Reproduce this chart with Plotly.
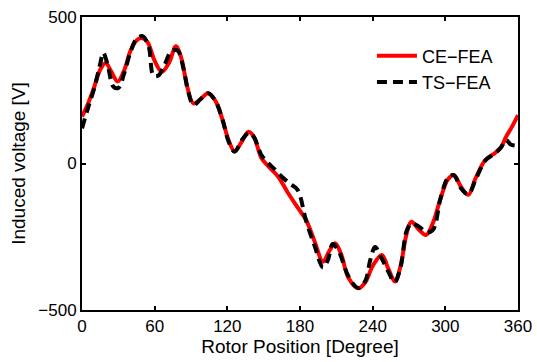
import plotly.graph_objects as go

# CE-FEA (red solid)
ce_deg = [0, 5, 10, 15, 19.5, 24, 29.5, 35, 40, 45, 49, 54, 60, 66, 72, 77.5, 82, 87, 92, 98,
          104, 110, 116, 121, 126, 132, 137.5, 142, 148, 154, 162, 170, 178, 185, 192, 199,
          204, 209, 214, 220, 228, 234, 240, 247.5, 253, 258.5, 263, 268, 272, 278, 284, 290,
          296, 302, 307, 313, 319, 325, 333, 341, 346, 350, 355, 360]
ce_volt = [160, 205, 260, 320, 343, 315, 280, 320, 385, 420, 428, 415, 350, 313, 345, 400, 360,
           260, 205, 220, 240, 215, 150, 80, 42, 75, 108, 90, 20, -10, -45, -100, -150, -193,
           -265, -335, -300, -272, -310, -390, -426, -405, -350, -312, -360, -403, -350, -240,
           -199, -225, -244, -200, -120, -55, -39, -80, -107, -50, 12, 36, 55, 90, 125, 165]

# TS-FEA (black dashed)
ts_deg = [0, 5, 10, 15, 17.5, 21, 26, 30, 35, 40, 45, 50, 55, 59, 63, 68, 74, 79, 84, 88, 92,
          98, 104, 110, 116, 121, 126, 132, 138, 142, 148, 154, 158, 165, 172, 178, 185, 192,
          199, 203, 207, 212, 220, 228, 234, 238, 242, 247, 253, 258, 263, 268, 272, 278, 285,
          290, 296, 302, 307, 313, 319, 325, 333, 341, 346, 350, 354, 360]
ts_volt = [120, 190, 255, 340, 378, 340, 262, 258, 310, 380, 425, 435, 400, 300, 300, 335, 385,
           385, 320, 240, 200, 220, 240, 215, 150, 75, 40, 80, 105, 90, 30, 0, -15, -45, -70,
           -90, -195, -280, -355, -330, -275, -300, -385, -425, -400, -330, -285, -320, -370,
           -405, -355, -230, -205, -215, -235, -225, -120, -50, -40, -85, -105, -55, 10, 35,
           55, 80, 65, 60]

x_ticks = [0, 60, 120, 180, 240, 300, 360]
y_ticks = [-500, 0, 500]
y_tick_text = ["\u2212500", "0", "500"]

fig = go.Figure()
fig.add_trace(go.Scatter(x=ce_deg, y=ce_volt, mode="lines", name="CE\u2212FEA",
                         line=dict(color="#ff0000", width=4, shape="spline", smoothing=1.0)))
fig.add_trace(go.Scatter(x=ts_deg, y=ts_volt, mode="lines", name="TS\u2212FEA",
                         line=dict(color="#000000", width=4, dash="10px,6px",
                                   shape="spline", smoothing=1.0)))

font = "Liberation Sans, Arial, sans-serif"
fig.update_layout(
    width=537, height=362,
    margin=dict(l=82, r=19, t=17, b=52, autoexpand=False),
    paper_bgcolor="white", plot_bgcolor="white",
    font=dict(family=font, size=16, color="black"),
    showlegend=True,
    legend=dict(x=0.665, y=0.93, xanchor="left", yanchor="top",
                bgcolor="rgba(0,0,0,0)", font=dict(size=18), tracegroupgap=0,
                itemwidth=40),
)
fig.update_xaxes(range=[0, 360], tickvals=x_ticks, ticks="inside", ticklen=4,
                 tickcolor="black", tickwidth=1.5, showline=True, linecolor="black",
                 linewidth=2, mirror="ticks", showgrid=False, zeroline=False,
                 automargin=False,
                 title=dict(text="Rotor Position [Degree]", standoff=1),
                 tickfont=dict(size=17))
fig.update_yaxes(range=[-500, 500], tickvals=y_ticks, ticktext=y_tick_text, ticks="inside",
                 ticklen=4, tickcolor="black", tickwidth=1.5, showline=True,
                 linecolor="black", linewidth=2, mirror="ticks", showgrid=False,
                 zeroline=False, automargin=False,
                 title=dict(text="Induced voltage [V]", standoff=8),
                 tickfont=dict(size=17))

fig.write_html("out.html")
